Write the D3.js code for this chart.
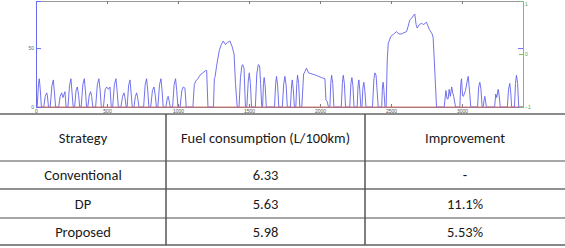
<!DOCTYPE html>
<html>
<head>
<meta charset="utf-8">
<script src="https://cdn.jsdelivr.net/npm/d3@7"></script>
<style>
  body { margin: 0; background: #fff; }
  svg { display: block; }
  .tbl text { font-family: Carlito, Lato, "Open Sans", sans-serif; fill: #1a1a1a; }
</style>
</head>
<body>
<div id="chart"></div>
<script>
// 车速曲线 [时间 s, 车速 km/h]，按图读取的折点
const speedPoints = [
  [0,0],[8,0],[18,20],[23,24],[30,15],[38,0],
  [55,0],[65,9],[75,12],[80,10],[88,0],
  [100,0],[112,18],[122,23],[130,12],[138,0],
  [160,0],[170,9],[181,12],[190,8],[204,13],[212,0],
  [225,0],[236,18],[246,24],[254,12],[262,0],
  [272,0],[282,14],[291,17],[300,10],[308,0],
  [318,0],[330,19],[340,24],[348,14],[356,0],
  [365,0],[375,10],[385,13],[392,9],[400,0],
  [420,0],[432,19],[443,24],[452,14],[460,0],
  [475,0],[487,15],[498,17],[510,15],[521,17],[530,0],
  [540,0],[552,19],[563,24],[571,14],[580,0],
  [598,0],[610,9],[620,12],[627,8],[635,0],
  [642,0],[652,18],[662,23],[670,12],[678,0],
  [690,0],[700,9],[709,12],[716,8],[725,0],
  [758,0],[769,19],[779,24],[787,14],[795,0],
  [808,0],[820,14],[831,17],[840,10],[848,0],
  [858,0],[870,19],[880,24],[888,14],[896,0],
  [915,0],[924,7],[931,9],[938,5],[945,0],
  [962,0],[973,19],[983,24],[991,14],[1000,0],
  [1015,0],[1027,14],[1037,17],[1049,16],[1058,0],
  [1105,0],[1115,19],[1125,22],[1140,24],[1155,27],[1175,29],[1195,31],[1202,31],[1211,0],
  [1250,0],[1256,24],[1262,26],[1272,35],[1291,48],[1305,53],[1319,56],[1335,53],[1350,55],[1366,56],[1382,51],[1395,45],[1405,20],[1417,0],
  [1430,0],[1440,25],[1450,35],[1455,36],[1465,33],[1475,0],
  [1485,0],[1495,22],[1502,29],[1510,20],[1518,0],
  [1545,0],[1555,28],[1565,36],[1575,35],[1582,20],[1590,0],
  [1596,0],[1602,20],[1607,25],[1614,18],[1622,0],
  [1680,0],[1688,20],[1694,26],[1702,18],[1710,0],
  [1735,0],[1745,20],[1753,26],[1762,18],[1770,0],
  [1792,0],[1800,18],[1805,23],[1812,15],[1820,0],
  [1830,0],[1837,20],[1842,27],[1850,20],[1858,0],
  [1872,0],[1885,28],[1894,30],[1905,33],[1920,29],[1945,28],[1970,27],[1990,26],[2010,25],[2035,24],[2042,6],[2050,5],[2060,0],
  [2070,0],[2076,20],[2082,27],[2090,20],[2098,0],
  [2150,0],[2158,20],[2164,27],[2172,20],[2180,0],
  [2210,0],[2218,20],[2225,25],[2232,18],[2240,0],
  [2262,0],[2268,18],[2274,23],[2280,15],[2288,0],
  [2296,0],[2302,16],[2309,21],[2316,14],[2324,0],
  [2370,0],[2380,24],[2387,29],[2395,27],[2402,15],[2410,0],
  [2435,0],[2440,17],[2445,21],[2450,15],[2458,0],
  [2466,0],[2474,40],[2481,54],[2490,57],[2499,60],[2520,62],[2539,64],[2555,62],[2574,62],[2590,63],[2610,64],[2620,68],[2633,74],[2650,76],[2660,78],[2668,79],[2677,70],[2685,67],[2700,70],[2715,71],[2730,70],[2750,72],[2770,66],[2790,62],[2797,59],[2805,40],[2821,0],
  [2875,0],[2880,6],[2887,14],[2895,7],[2903,7],[2910,15],[2918,9],[2928,17],[2935,12],[2942,9],[2955,0],
  [2985,0],[2992,20],[2997,24],[3004,10],[3010,9],[3025,14],[3037,22],[3044,26],[3050,18],[3056,10],[3062,0],
  [3110,0],[3118,17],[3126,21],[3134,15],[3142,0],
  [3150,0],[3156,6],[3161,9],[3166,5],[3172,0],
  [3230,0],[3238,11],[3245,8],[3255,15],[3262,10],[3270,0],
  [3320,0],[3328,15],[3337,20],[3344,12],[3350,0],
  [3370,0],[3377,20],[3384,27],[3392,20],[3400,0],[3430,0]
];

// 右轴上的红线（-1）
const redPoints = [[0,-1],[3430,-1]];

// 刻度
const xTicks = [0, 500, 1000, 1500, 2000, 2500, 3000];
const leftTicks = [0, 50];
const rightTicks = [-1, 0, 1];

// 表格内容
const headers = ['Strategy', 'Fuel consumption (L/100km)', 'Improvement'];
const strategies = ['Conventional', 'DP', 'Proposed'];
const fuelValues = ['6.33', '5.63', '5.98'];
const improvements = ['-', '11.1%', '5.53%'];

const W = 565, H = 248;
const plot = { left: 36, right: 523, top: 1, bottom: 107 };

const svg = d3.select('#chart').append('svg')
  .attr('width', W)
  .attr('height', H);

// 比例尺
const x = d3.scaleLinear().domain([0, 3430]).range([plot.left, plot.right]);
const yL = d3.scaleLinear().domain([0, 90]).range([plot.bottom, plot.top]);
const yR = d3.scaleLinear().domain([-1, 1]).range([plot.bottom, plot.top]);

const fmt = d3.format('d');
const tickFont = g => g.selectAll('text')
  .style('font-family', 'Liberation Sans, Arial, sans-serif')
  .style('font-size', '5px');

// 上边框
svg.append('g')
  .attr('transform', `translate(0,${plot.top})`)
  .call(d3.axisTop(x).tickValues(xTicks).tickSize(-3).tickFormat(''))
  .call(g => g.select('.domain').attr('stroke', '#999'))
  .call(g => g.selectAll('line').attr('stroke', '#777'));

// 下轴
svg.append('g')
  .attr('transform', `translate(0,${plot.bottom})`)
  .call(d3.axisBottom(x).tickValues(xTicks).tickSize(-3).tickPadding(2).tickFormat(fmt))
  .call(g => g.select('.domain').attr('stroke', '#777'))
  .call(g => g.selectAll('line').attr('stroke', '#777'))
  .call(tickFont)
  .call(g => g.selectAll('text').attr('fill', '#555'));

// 车速曲线
svg.append('path')
  .datum(speedPoints)
  .attr('fill', 'none')
  .attr('stroke', '#6262ea')
  .attr('stroke-width', 0.9)
  .attr('stroke-linejoin', 'round')
  .attr('d', d3.line().x(d => x(d[0])).y(d => yL(d[1])));

// 红线
svg.append('path')
  .datum(redPoints)
  .attr('fill', 'none')
  .attr('stroke', '#e07a7a')
  .attr('stroke-width', 1.2)
  .attr('d', d3.line().x(d => x(d[0])).y(d => yR(d[1])));

// 左轴（蓝）
svg.append('g')
  .attr('transform', `translate(${plot.left},0)`)
  .call(d3.axisLeft(yL).tickValues(leftTicks).tickSize(-5).tickPadding(2).tickFormat(fmt))
  .call(g => g.select('.domain').attr('stroke', '#6a6af0'))
  .call(g => g.selectAll('line').attr('stroke', '#6a6af0'))
  .call(tickFont)
  .call(g => g.selectAll('text').attr('fill', '#667'));

// 右侧的蓝色镜像刻度
svg.append('g')
  .attr('transform', `translate(${plot.right},0)`)
  .call(d3.axisRight(yL).tickValues(leftTicks).tickSize(-5).tickFormat(''))
  .call(g => g.select('.domain').remove())
  .call(g => g.selectAll('line').attr('stroke', '#6a6af0'));

// 右轴（绿）
svg.append('g')
  .attr('transform', `translate(${plot.right},0)`)
  .call(d3.axisRight(yR).tickValues(rightTicks).tickSize(-4).tickPadding(2).tickFormat(fmt))
  .call(g => g.select('.domain').attr('stroke', '#6cc46c'))
  .call(g => g.selectAll('line').attr('stroke', '#6cc46c'))
  .call(tickFont)
  .call(g => g.selectAll('text').attr('fill', '#4a4')
    .attr('dy', d => d === 1 ? '0.9em' : '0.32em'));

// 表格
const colEdges = [0, 166, 365, 565];
const rowEdges = [114, 161, 189, 218, 245];
const tbl = svg.append('g').attr('class', 'tbl');

const rows = [headers].concat(strategies.map((s, i) => [s, fuelValues[i], improvements[i]]));

const hLineStyle = [
  { c: '#666', w: 1.5 },
  { c: '#888', w: 1.5 },
  { c: '#222', w: 1.2 },
  { c: '#888', w: 1.5 },
  { c: '#888', w: 2 }
];
tbl.selectAll('line.h')
  .data(rowEdges)
  .enter().append('line')
  .attr('class', 'h')
  .attr('x1', 0).attr('x2', W)
  .attr('y1', d => d).attr('y2', d => d)
  .attr('stroke', (d, i) => hLineStyle[i].c)
  .attr('stroke-width', (d, i) => hLineStyle[i].w);

tbl.selectAll('line.v')
  .data(colEdges.slice(1, 3))
  .enter().append('line')
  .attr('class', 'v')
  .attr('x1', d => d).attr('x2', d => d)
  .attr('y1', rowEdges[0]).attr('y2', rowEdges[rowEdges.length - 1])
  .attr('stroke', '#555')
  .attr('stroke-width', 1.5);

rows.forEach((r, ri) => {
  const cy = (rowEdges[ri] + rowEdges[ri + 1]) / 2;
  r.forEach((txt, ci) => {
    tbl.append('text')
      .attr('x', (colEdges[ci] + colEdges[ci + 1]) / 2)
      .attr('y', cy)
      .attr('dy', '0.35em')
      .attr('text-anchor', 'middle')
      .style('font-size', '14.5px')
      .text(txt);
  });
});
</script>
</body>
</html>
